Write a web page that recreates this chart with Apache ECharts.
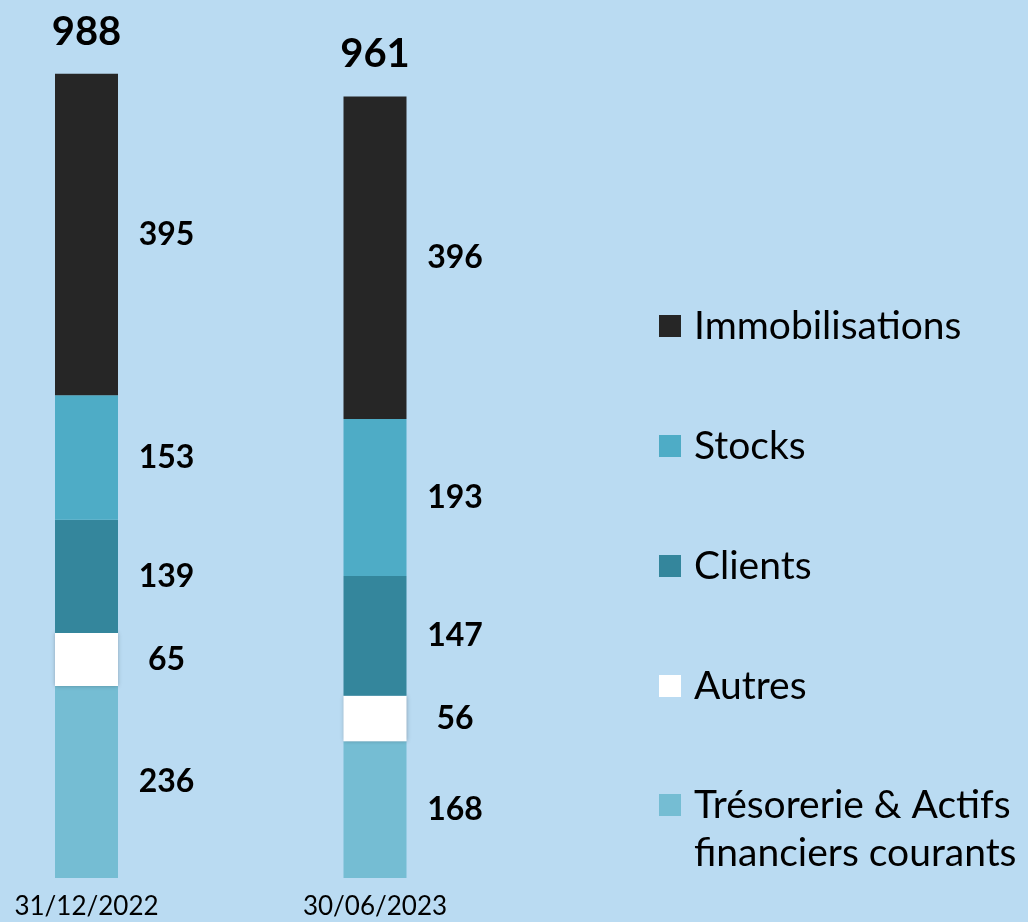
<!DOCTYPE html>
<html>
<head>
<meta charset="utf-8">
<script src="https://cdn.jsdelivr.net/npm/echarts@6/dist/echarts.min.js"></script>
<style>
  html, body { margin: 0; padding: 0; background: #badbf2; }
  #main { width: 1028px; height: 922px; }
</style>
</head>
<body>
<div id="main"></div>
<script>
const dates = ["31/12/2022", "30/06/2023"];
const tresorerie = [236, 168];
const autres = [65, 56];
const clients = [139, 147];
const stocks = [153, 193];
const immobilisations = [395, 396];
const totals = [988, 961];

const font = "Lato, 'Noto Sans', sans-serif";
const TRESO = "Trésorerie & Actifs financiers courants";

// etiquette a droite de chaque segment
const segLabel = {
  show: true,
  position: "inside",
  offset: [80, 0],
  color: "#000",
  fontFamily: font,
  fontWeight: "bold",
  fontSize: 32,
};

function seg(name, data, color, extra) {
  return Object.assign(
    {
      name: name,
      type: "bar",
      stack: "actif",
      barWidth: 63,
      data: data,
      itemStyle: { color: color },
      label: segLabel,
    },
    extra || {}
  );
}

const legendBase = {
  orient: "vertical",
  left: 659,
  padding: 0,
  itemGap: 0,
  itemWidth: 22,
  itemHeight: 22,
  icon: "rect",
};

const chart = echarts.init(document.getElementById("main"));
chart.setOption({
  backgroundColor: "#badbf2",
  animation: false,
  grid: { left: 86.5, right: 653, top: 64, bottom: 44 },
  xAxis: {
    type: "category",
    data: dates,
    boundaryGap: false,
    axisLine: { show: false },
    axisTick: { show: false },
    axisLabel: { color: "#000", fontFamily: font, fontSize: 26, margin: 16 },
  },
  yAxis: { type: "value", min: 0, max: 1000, show: false, splitLine: { show: false } },
  legend: [
    Object.assign({}, legendBase, {
      top: 266,
      textStyle: {
        color: "#000",
        fontFamily: font,
        fontSize: 39,
        lineHeight: 40,
        padding: [40, 0, 40, 8],
      },
      data: ["Immobilisations", "Stocks", "Clients", "Autres"],
    }),
    // derniere entree sur deux lignes, symbole aligne sur la premiere
    Object.assign({}, legendBase, {
      top: 733,
      textStyle: {
        color: "#000",
        fontFamily: font,
        fontSize: 39,
        lineHeight: 48,
        padding: [0, 0, 0, 8],
      },
      formatter: () => "\nTrésorerie & Actifs\nfinanciers courants",
      data: [TRESO],
    }),
  ],
  series: [
    seg(TRESO, tresorerie, "#75bdd3"),
    seg("Autres", autres, "#ffffff", {
      itemStyle: { color: "#ffffff", shadowBlur: 4, shadowColor: "rgba(0,0,0,0.25)" },
    }),
    seg("Clients", clients, "#34869c"),
    seg("Stocks", stocks, "#4eacc6"),
    seg("Immobilisations", immobilisations, "#262626"),
    {
      name: "Total",
      type: "bar",
      barWidth: 63,
      barGap: "-100%",
      silent: true,
      data: totals,
      itemStyle: { color: "transparent" },
      label: {
        show: true,
        position: "top",
        distance: 22,
        color: "#000",
        fontFamily: font,
        fontWeight: "bold",
        fontSize: 40,
      },
      z: 1,
    },
  ],
});
</script>
</body>
</html>
